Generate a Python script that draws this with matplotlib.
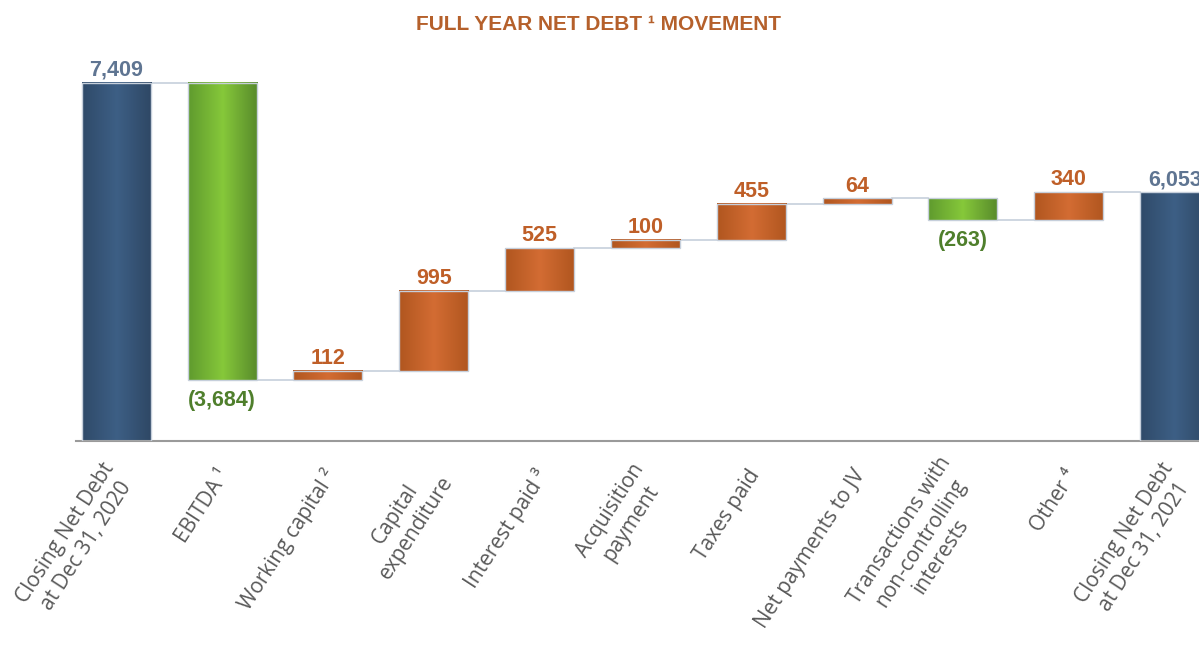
import matplotlib.pyplot as plt
import numpy as np
from matplotlib.colors import LinearSegmentedColormap

# ---- data ----
categories = [
    "Closing Net Debt\nat Dec 31, 2020",
    "EBITDA \u00b9",
    "Working capital \u00b2",
    "Capital\nexpenditure",
    "Interest paid \u00b3",
    "Acquisition\npayment",
    "Taxes paid",
    "Net payments to JV",
    "Transactions with\nnon-controlling\ninterests",
    "Other \u2074",
    "Closing Net Debt\nat Dec 31, 2021",
]
opening = 7409
movements = [-3684, 112, 995, 525, 100, 455, 64, -263, 340]
closing = 6053
title = "FULL YEAR NET DEBT \u00b9 MOVEMENT"

BLUE = ["#2f4a69", "#3d5f85", "#2e4764"]
GREEN = ["#5f9a2e", "#86c83a", "#578a2b"]
ORANGE = ["#b0561f", "#d36c33", "#b0561f"]
EDGE = "#c6cfdb"

# running totals -> bottoms / tops
bottoms, tops, kinds = [0], [opening], ["total"]
level = opening
for m in movements:
    new = level + m
    bottoms.append(min(level, new))
    tops.append(max(level, new))
    kinds.append("up" if m > 0 else "down")
    level = new
bottoms.append(0)
tops.append(closing)
kinds.append("total")

labels = [f"{opening:,}"] + [f"{m:,}" if m > 0 else f"({-m:,})" for m in movements] + [f"{closing:,}"]

fig = plt.figure(figsize=(11.99, 6.45), dpi=100)
ax = fig.add_axes([76 / 1199, (645 - 441) / 645, 1 - 76 / 1199, 400 / 645])
ymin = 2970
ymax = ymin + 400 * 12.39
width = 0.652

grad = np.linspace(0, 1, 256).reshape(1, -1)
cmaps = {
    "total": LinearSegmentedColormap.from_list("b", BLUE),
    "up": LinearSegmentedColormap.from_list("o", ORANGE),
    "down": LinearSegmentedColormap.from_list("g", GREEN),
}
label_colors = {"total": "#5f7592", "up": "#bf5f28", "down": "#4f7f2c"}

x = np.arange(len(categories))
for i, (b, t, k) in enumerate(zip(bottoms, tops, kinds)):
    lo = max(b, ymin)
    ax.imshow(grad, extent=(i - width / 2, i + width / 2, lo, t), aspect="auto",
              cmap=cmaps[k], interpolation="nearest", zorder=2)
    ax.add_patch(plt.Rectangle((i - width / 2, lo), width, t - lo, fill=False,
                               edgecolor=EDGE, lw=1.0, zorder=3))
    if k == "down":
        ax.text(i, b - 125, labels[i], ha="center", va="top", fontsize=15.5,
                fontweight="bold", color=label_colors[k], family="Liberation Sans")
    else:
        ax.text(i, t + 85, labels[i], ha="center", va="baseline", fontsize=15.5,
                fontweight="bold", color=label_colors[k], family="Liberation Sans")

# connector lines between bars
levels = [opening] + list(opening + np.cumsum(movements))
for i, lv in enumerate(levels):
    ax.plot([i + width / 2, i + 1 - width / 2], [lv, lv], color=EDGE, lw=1.2, zorder=1)

ax.set_xlim(-0.38, 10.23)
ax.set_ylim(ymin, ymax)
for s in ["top", "right", "left"]:
    ax.spines[s].set_visible(False)
ax.spines["bottom"].set_color("#9a9a9a")
ax.spines["bottom"].set_linewidth(1.5)
ax.set_yticks([])
ax.set_xticks(x)
ax.set_xticklabels([])
ax.tick_params(axis="x", length=0)

# rotated category labels, right-centre of each block near the tick
for i, c in enumerate(categories):
    ax.annotate(c, xy=(i, ymin), xycoords="data", xytext=(3, -22), textcoords="offset points",
                rotation=57, ha="right", va="center", rotation_mode="anchor",
                multialignment="center", fontsize=15, color="#595959",
                family=["Open Sans", "DejaVu Sans"], annotation_clip=False)

fig.text(598 / 1199, 1 - 25 / 645, title, ha="center", va="center", fontsize=15,
         fontweight="bold", color="#b5602b", family="Liberation Sans")

fig.savefig("out.png", dpi=100)
